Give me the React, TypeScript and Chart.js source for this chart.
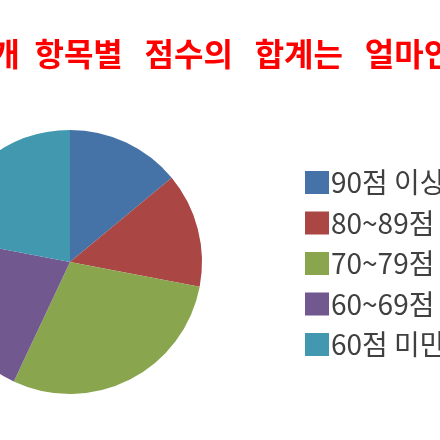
import { useEffect, useRef } from 'react';
import { Chart, registerables } from 'chart.js';

Chart.register(...registerables);

const titleText = '5개  항목별   점수의   합계는   얼마인가?';
const categories = ['90점 이상', '80~89점', '70~79점', '60~69점', '60점 미만'];
const scoreTotals = [14, 14, 29, 21, 22];
const sliceColors = ['#4572A7', '#AA4643', '#89A54E', '#71588F', '#4198AF'];

// canvas is wider than the view and shifted left, so the picture is cropped like the source
const SHIFT_X = 380;
const CANVAS_W = 900;
const CANVAS_H = 440;

const LEGEND_X = 305 + SHIFT_X;
const LEGEND_TOP = 171;
const LEGEND_ROW = 40.5;
const BOX_W = 24;
const BOX_H = 23;

const sideLegend = {
  id: 'sideLegend',
  afterDraw(chart: Chart) {
    const { ctx } = chart;
    const labels = chart.data.labels as string[];
    const colors = chart.data.datasets[0].backgroundColor as string[];
    ctx.save();
    ctx.font = '28px "Noto Sans CJK KR", sans-serif';
    ctx.textBaseline = 'middle';
    ctx.textAlign = 'left';
    labels.forEach((label, i) => {
      const y = LEGEND_TOP + i * LEGEND_ROW;
      ctx.fillStyle = colors[i];
      ctx.fillRect(LEGEND_X, y, BOX_W, BOX_H);
      ctx.fillStyle = '#404040';
      ctx.fillText(label, LEGEND_X + BOX_W + 2, y + BOX_H / 2);
    });
    ctx.restore();
  },
};

const ScorePie = () => {
  const canvasRef = useRef<HTMLCanvasElement>(null);

  useEffect(() => {
    if (!canvasRef.current) return;
    const ctx = canvasRef.current.getContext('2d');
    if (!ctx) return;

    const chart = new Chart(ctx, {
      type: 'pie',
      data: {
        labels: categories,
        datasets: [
          {
            data: scoreTotals,
            backgroundColor: sliceColors,
            borderWidth: 0,
            hoverOffset: 0,
          },
        ],
      },
      options: {
        responsive: true,
        maintainAspectRatio: false,
        animation: false,
        layout: {
          padding: { left: 21, right: 21, top: 0, bottom: 46 },
        },
        plugins: {
          legend: { display: false },
          tooltip: { enabled: false },
          title: {
            display: true,
            text: titleText,
            align: 'end',
            color: '#FF0000',
            font: { family: '"Noto Sans CJK KR", sans-serif', size: 32, weight: 'bold', lineHeight: 1.2 },
            padding: { top: 34.3, bottom: 57.3 },
          },
        },
      },
      plugins: [sideLegend],
    });

    return () => {
      chart.destroy();
    };
  }, []);

  return (
    <div style={{ position: 'fixed', left: 0, top: 0, width: 440, height: 440, overflow: 'hidden', background: '#fff' }}>
      <div style={{ position: 'absolute', left: -SHIFT_X, top: 0, width: CANVAS_W, height: CANVAS_H }}>
        <canvas ref={canvasRef}></canvas>
      </div>
    </div>
  );
};

export default function App() {
  return <ScorePie />;
}
